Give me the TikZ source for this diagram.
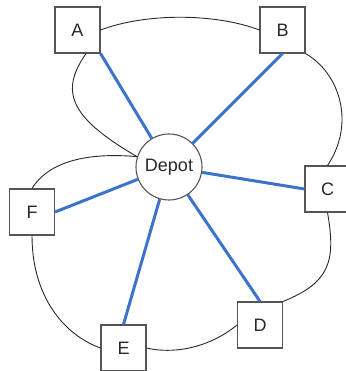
\documentclass[tikz,border=0pt]{standalone}
\usepackage{fontspec}
\setmainfont{Liberation Sans}
\begin{document}
\definecolor{routeblue}{RGB}{60,115,205}
\definecolor{boxgray}{RGB}{85,85,85}
\definecolor{inkgray}{RGB}{40,40,40}
\begin{tikzpicture}[x=1pt,y=1pt,
  site/.style={draw=boxgray,line width=1.1pt,fill=white,minimum width=45pt,minimum height=46pt,inner sep=0pt,font=\fontsize{18}{20}\selectfont,text=inkgray},
  hub/.style={circle,draw=boxgray,line width=1.1pt,fill=white,minimum size=66pt,inner sep=0pt,font=\fontsize{18}{20}\selectfont,text=inkgray},
  spoke/.style={draw=routeblue,line width=3pt},
  tour/.style={draw=inkgray,line width=0.9pt}]
\useasboundingbox (0,0) rectangle (345,371);
% depot and customer sites
\node[hub]  (depot) at (169,204) {Depot};
\node[site] (A) at (77.5,341) {A};
\node[site] (B) at (282.5,341) {B};
\node[site] (C) at (327.5,182) {C};
\node[site] (D) at (260,46) {D};
\node[site] (E) at (123.5,23) {E};
\node[site] (F) at (32,159) {F};
% merged tour
\draw[tour] (A.east) .. controls +(45,17) and +(-45,17) .. (B.west);
\draw[tour] (B.south east) .. controls +(-30:40) and +(56:50) .. (C.north);
\draw[tour] (C.south) .. controls +(-80:50) and +(22:50) .. (D.north east);
\draw[tour] (D.west) .. controls +(220:30) and +(-13:33) .. (E.east);
\draw[tour] (F.south) .. controls +(0,-60) and +(160:40) .. (E.west);
\draw[tour] (F.north) .. controls +(58:32) and +(175:50) .. (depot.162);
\draw[tour] (A.-70) .. controls +(235:45) and +(150:80) .. (depot.162);
% direct depot trips
\draw[spoke] (A.south east) -- (depot);
\draw[spoke] (B.south) -- (depot);
\draw[spoke] (C.west) -- (depot);
\draw[spoke] (D.north) -- (depot);
\draw[spoke] (E.north) -- (depot);
\draw[spoke] (F.east) -- (depot);
\end{tikzpicture}
\end{document}
